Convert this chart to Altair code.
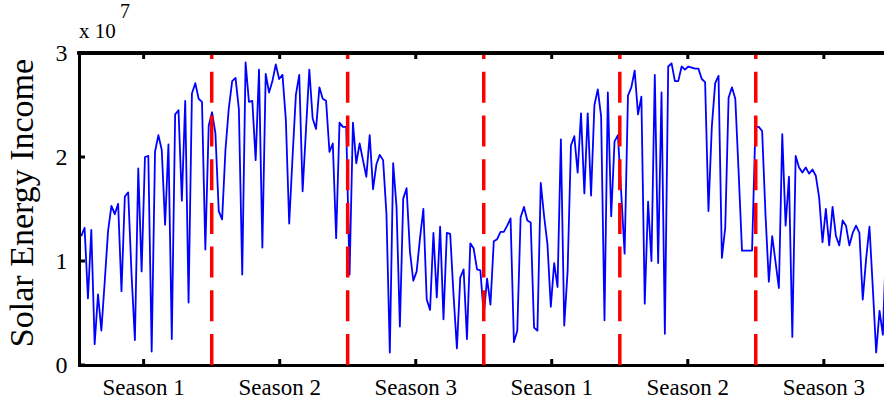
import altair as alt
import pandas as pd

# Solar energy income (units of 1e7), one sample every 3 days, two years
season1_a = [1.24, 1.32, 0.64, 1.30, 0.20, 0.68, 0.33, 0.80, 1.29, 1.53,
             1.45, 1.55, 0.71, 1.62, 1.66, 0.87, 0.24, 1.89, 0.90, 2.00,
             2.01, 0.13, 2.05, 2.21, 2.07, 1.35, 2.12, 0.25, 2.41, 2.45,
             1.58, 2.54, 0.60, 2.61, 2.71, 2.56, 2.53, 1.11, 2.30]
season2_a = [2.43, 2.23, 1.48, 1.40, 2.07, 2.47, 2.73, 2.76, 2.46, 0.87,
             2.91, 2.53, 2.54, 1.97, 2.84, 1.13, 2.80, 2.62, 2.73, 2.89,
             2.75, 2.79, 2.36, 1.36, 2.00, 2.60, 2.79, 1.67, 2.26, 2.84,
             2.37, 2.27, 2.67, 2.56, 2.54, 2.05, 2.13, 1.22, 2.33, 2.29,
             2.29]
season3_a = [0.87, 2.33, 1.94, 2.13, 1.97, 1.81, 2.21, 1.69, 1.93, 2.02,
             1.97, 1.45, 0.12, 1.94, 1.52, 0.37, 1.60, 1.70, 1.09, 0.81,
             0.90, 1.22, 1.50, 0.63, 0.53, 1.27, 0.65, 1.33, 0.44, 1.27,
             1.26, 0.67, 0.16, 0.84, 0.92, 0.25, 1.17, 1.12, 0.92, 0.91,
             0.48]
season1_b = [0.83, 0.58, 1.19, 1.21, 1.28, 1.28, 1.34, 1.41, 0.22, 0.33,
             1.42, 1.52, 1.39, 1.37, 0.36, 0.33, 1.75, 1.43, 1.16, 0.56,
             0.98, 0.75, 2.17, 0.38, 0.90, 2.11, 2.20, 1.85, 2.42, 1.65,
             2.42, 1.63, 2.50, 2.65, 2.39, 0.43, 2.62, 1.43, 2.15, 2.21,
             1.65]
season2_b = [1.07, 2.59, 2.67, 2.83, 2.41, 2.58, 0.59, 1.57, 1.00, 2.79,
             0.98, 2.62, 0.30, 2.87, 2.90, 2.73, 2.73, 2.87, 2.84, 2.87,
             2.86, 2.85, 2.85, 2.75, 2.72, 1.48, 2.29, 2.71, 2.78, 1.03,
             1.32, 2.57, 2.67, 2.56, 1.85, 1.10, 1.10, 1.10, 1.10]
season3_b = [2.29, 2.29, 2.25, 1.45, 0.80, 1.24, 0.99, 0.74, 2.22, 1.34,
             1.81, 0.27, 2.01, 1.90, 1.85, 1.90, 1.84, 1.88, 1.82, 1.61,
             1.18, 1.50, 1.15, 1.52, 1.24, 1.15, 1.39, 1.34, 1.15, 1.27,
             1.34, 1.27, 0.63, 1.02, 1.33, 0.74, 0.12, 0.52, 0.29, 1.22]

income = season1_a + season2_a + season3_a + season1_b + season2_b + season3_b
first_day = 5
step_days = 3
days = [first_day + step_days * i for i in range(len(income))]

boundary_days = [121.7, 243.3, 365.0, 486.7, 608.3]
season_centers = [60.8, 182.5, 304.2, 425.8, 547.5, 669.2]
season_labels = ["Season 1", "Season 2", "Season 3", "Season 1", "Season 2", "Season 3"]
y_ticks = [0, 1, 2, 3]

W, H = 805, 312
FONT = "Liberation Serif"

df = pd.DataFrame({"day": days, "income": income})
bdf = pd.DataFrame({"day": boundary_days})
cdf = pd.DataFrame({"day": season_centers, "label": season_labels})
ydf = pd.DataFrame({"v": y_ticks})

xscale = alt.Scale(domain=[3, 723], nice=False, zero=False)
yscale = alt.Scale(domain=[0, 3], nice=False, zero=False)

xaxis = alt.Axis(labels=False, ticks=False, grid=False, title=None,
                 domainColor="black", domainWidth=3, domainCap="square")
yaxis = alt.Axis(values=y_ticks, format="d", grid=False, ticks=False, tickSize=0,
                 labelPadding=12, labelFont=FONT, labelFontSize=24,
                 labelColor="black", title=None,
                 domainColor="black", domainWidth=3, domainCap="square")

line = alt.Chart(df).mark_line(
    color="#0000ff", strokeWidth=1.8, strokeJoin="round", clip=True
).encode(
    x=alt.X("day:Q", scale=xscale, axis=xaxis),
    y=alt.Y("income:Q", scale=yscale, axis=yaxis),
)

red = alt.Chart(bdf).mark_rule(
    color="#ff0000", strokeWidth=3.5, strokeDash=[31, 12.7]
).encode(
    x=alt.X("day:Q", scale=xscale, axis=xaxis),
    y=alt.value(H), y2=alt.value(0),
)

top = alt.Chart(bdf).mark_rule(color="black", strokeWidth=3).encode(
    x=alt.value(-1.5), x2=alt.value(W), y=alt.value(0)
)

left_ticks = alt.Chart(ydf).mark_rule(color="black", strokeWidth=3).encode(
    y=alt.Y("v:Q", scale=yscale, axis=yaxis), x=alt.value(0), x2=alt.value(6)
)
bottom_ticks = alt.Chart(cdf).mark_rule(color="black", strokeWidth=3).encode(
    x=alt.X("day:Q", scale=xscale, axis=xaxis), y=alt.value(H), y2=alt.value(H - 6)
)
top_ticks = alt.Chart(cdf).mark_rule(color="black", strokeWidth=3).encode(
    x=alt.X("day:Q", scale=xscale, axis=xaxis), y=alt.value(0), y2=alt.value(6)
)

season_text = alt.Chart(cdf).mark_text(
    font=FONT, fontSize=23, color="black", align="center", baseline="alphabetic"
).encode(
    x=alt.X("day:Q", scale=xscale, axis=xaxis), y=alt.value(H + 30), text="label:N"
)

one = pd.DataFrame({"k": [0]})
ytitle = alt.Chart(one).mark_text(
    text="Solar Energy Income", font=FONT, fontSize=34, color="black",
    angle=270, align="center", baseline="middle"
).encode(x=alt.value(-56), y=alt.value(150))

x10 = alt.Chart(one).mark_text(
    text="x 10", font=FONT, fontSize=21, color="black", align="left", baseline="alphabetic"
).encode(x=alt.value(0), y=alt.value(-15))
exp7 = alt.Chart(one).mark_text(
    text="7", font=FONT, fontSize=20, color="black", align="left", baseline="alphabetic"
).encode(x=alt.value(41), y=alt.value(-35))

chart = alt.layer(
    line, red, top, left_ticks, bottom_ticks, top_ticks, season_text, ytitle, x10, exp7
).properties(
    width=W, height=H,
    autosize=alt.AutoSizeParams(type="none"),
    padding={"left": 79, "top": 53, "right": 0, "bottom": 37},
).configure_view(stroke=None).configure(background="white")

chart.save("out.html", embed_options={"renderer": "svg", "actions": False})
